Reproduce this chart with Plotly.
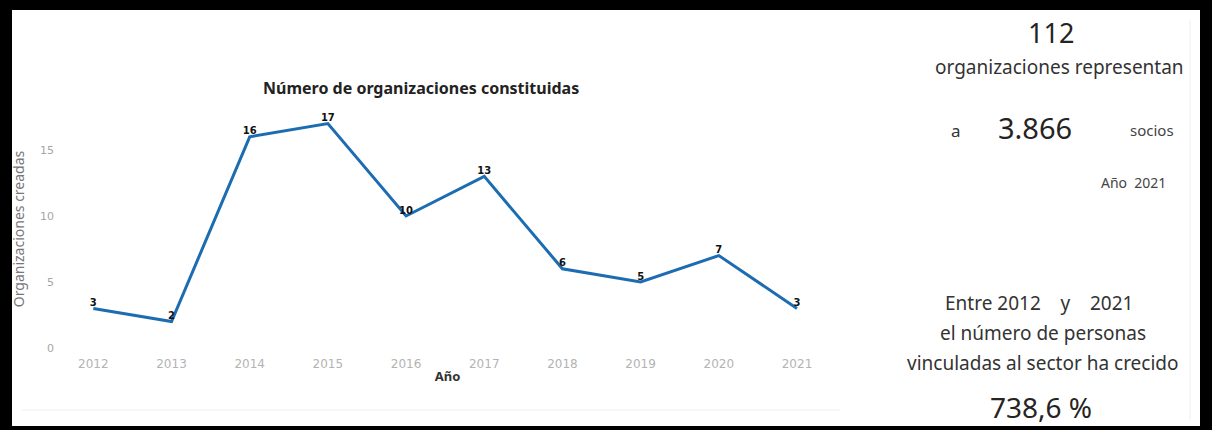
import plotly.graph_objects as go

# ---- data ----
years = [2012, 2013, 2014, 2015, 2016, 2017, 2018, 2019, 2020, 2021]
organizaciones = [3, 2, 16, 17, 10, 13, 6, 5, 7, 3]
y_ticks = [0, 5, 10, 15]

total_orgs = "112"
total_socios = "3.866"
anio_ref = "2021"
anio_ini = "2012"
anio_fin = "2021"
crecimiento = "738,6 %"

# ---- layout geometry ----
W, H = 1212, 430
L, R, T, B = 55, 372, 110, 82

def px(x):
    return (x - L) / (W - L - R)

def py(y):
    return (H - B - y) / (H - T - B)

fig = go.Figure()
fig.add_trace(go.Scatter(
    x=years, y=organizaciones,
    mode="lines+text",
    text=[str(v) for v in organizaciones],
    textposition="top center",
    textfont=dict(family="DejaVu Sans", size=10, color="#111111"),
    texttemplate="<b>%{text}</b>",
    line=dict(color="#1c6cb2", width=3),
    cliponaxis=False,
    hoverinfo="x+y",
))

annots = []
def add_text(x, y, text, size, color="#333333", family="Noto Sans", xanchor="center", bold=False):
    annots.append(dict(
        x=px(x), y=py(y), xref="paper", yref="paper",
        text=("<b>%s</b>" % text) if bold else text,
        showarrow=False, xanchor=xanchor, yanchor="middle",
        font=dict(size=size, color=color, family=family),
    ))

# chart title
add_text(421, 88, "Número de organizaciones constituidas", 16, "#222222", "Noto Sans", bold=True)

# right panel
add_text(1051, 32, total_orgs, 27, "#252423")
add_text(1059, 67, "organizaciones representan", 19, "#333333")
add_text(956, 130, "a", 17, "#333333")
add_text(1035, 128, total_socios, 29, "#252423")
add_text(1152, 130, "socios", 15, "#444444")
add_text(1133, 182, "Año  " + anio_ref, 14, "#444444")
add_text(1039, 303, "Entre " + anio_ini + "    y    " + anio_fin, 19, "#333333")
add_text(1043, 333, "el número de personas", 19, "#333333")
add_text(1043, 363, "vinculadas al sector ha crecido", 19, "#333333")
add_text(1041, 407, crecimiento, 28, "#252423")

fig.update_layout(
    width=W, height=H,
    margin=dict(l=L, r=R, t=T, b=B, pad=0),
    paper_bgcolor="#000000",
    plot_bgcolor="#ffffff",
    showlegend=False,
    annotations=annots,
    shapes=[
        dict(type="rect", xref="paper", yref="paper",
             x0=px(12), x1=px(1200), y0=py(426), y1=py(10),
             fillcolor="#ffffff", line=dict(width=0), layer="below"),
        dict(type="line", xref="paper", yref="paper",
             x0=px(22), x1=px(840), y0=py(410), y1=py(410),
             line=dict(color="#f0f0f0", width=1), layer="below"),
        dict(type="line", xref="paper", yref="paper",
             x0=px(1190), x1=px(1190), y0=py(20), y1=py(420),
             line=dict(color="#f0f0f0", width=1), layer="below"),
    ],
    xaxis=dict(
        range=[2011.51, 2021.55],
        tickvals=years, ticktext=[str(y) for y in years],
        showgrid=False, zeroline=False, showline=False, ticks="",
        ticklabelstandoff=7,
        tickfont=dict(family="DejaVu Sans", size=12, color="#b3b3b3"),
        title=dict(text="<b>Año</b>", font=dict(family="Noto Sans", size=13, color="#333333"), standoff=1),
        fixedrange=True,
    ),
    yaxis=dict(
        range=[0, 18.03],
        tickvals=y_ticks,
        showgrid=False, zeroline=False, showline=False, ticks="",
        tickfont=dict(family="DejaVu Sans", size=11, color="#a6a6a6"),
        title=dict(text="Organizaciones creadas", font=dict(family="Noto Sans", size=14, color="#777777"), standoff=12),
        fixedrange=True,
    ),
)

fig.write_html(
    "out.html",
    config={"displayModeBar": False},
    post_script="document.body.style.margin='0';document.body.style.padding='0';document.body.style.background='#000';document.body.style.overflow='hidden';",
)
